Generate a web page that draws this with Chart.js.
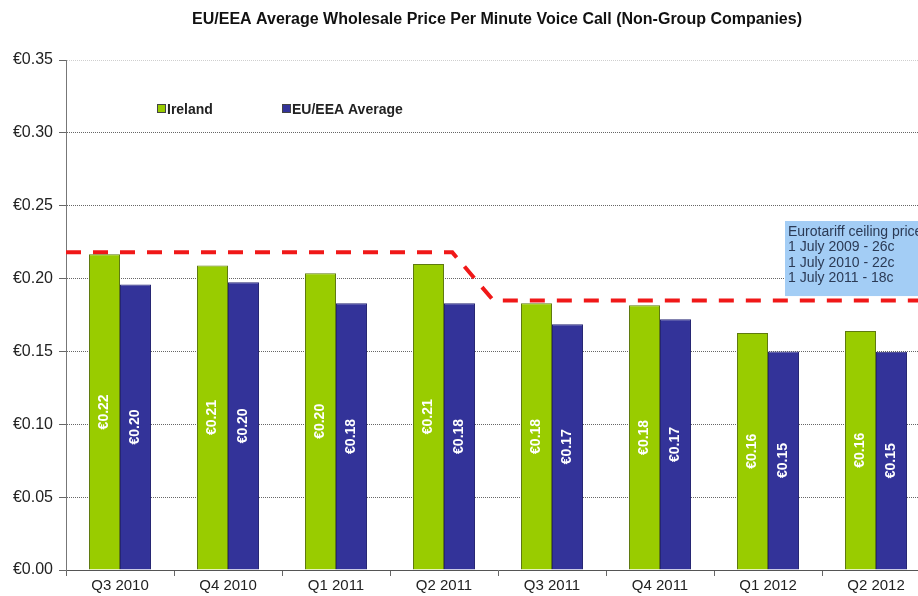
<!DOCTYPE html>
<html>
<head>
<meta charset="utf-8">
<script src="https://cdn.jsdelivr.net/npm/chart.js@4.4.0/dist/chart.umd.min.js"></script>
<style>
  html, body { margin: 0; padding: 0; background: #fff; overflow: hidden; }
  #wrap { width: 990px; height: 596px; }
</style>
</head>
<body>
<div id="wrap"><canvas id="myChart" width="990" height="596"></canvas></div>
<script>
// quarters on the x axis
const quarters = ['Q3 2010', 'Q4 2010', 'Q1 2011', 'Q2 2011', 'Q3 2011', 'Q4 2011', 'Q1 2012', 'Q2 2012'];
// price per minute (EUR)
const ireland = [0.2167, 0.209, 0.2037, 0.210, 0.183, 0.1817, 0.1626, 0.164];
const euAverage = [0.196, 0.1975, 0.183, 0.183, 0.1687, 0.172, 0.150, 0.1497];
// eurotariff ceiling line, x in category index units (-0.5 = left edge)
const ceilingX = [-0.5, 3.077, 3.457, 7.5];
const ceilingY = [0.218, 0.218, 0.185, 0.185];
const yTicks = [0, 0.05, 0.10, 0.15, 0.20, 0.25, 0.30, 0.35];
const noteLines = ['Eurotariff ceiling price', '1 July 2009 - 26c', '1 July 2010 - 22c', '1 July 2011 - 18c'];

const FONT = '"Liberation Sans", Arial, sans-serif';

// title, legend, note box and the labels inside the bars
const extras = {
    id: 'extras',
    afterDraw(chart) {
        const c = chart.ctx;
        const yScale = chart.scales.y;
        c.save();

        // title
        c.fillStyle = '#111';
        c.font = 'bold 16px ' + FONT;
        c.textAlign = 'center';
        c.textBaseline = 'middle';
        c.fillText('EU/EEA Average Wholesale Price Per Minute Voice Call (Non-Group Companies)', 497, 20);

        // bar labels
        c.font = 'bold 14px ' + FONT;
        c.fillStyle = '#fff';
        [0, 1].forEach(i => {
            const meta = chart.getDatasetMeta(i);
            const vals = chart.data.datasets[i].data;
            meta.data.forEach((bar, j) => {
                const mid = (bar.y + bar.base) / 2;
                c.save();
                c.translate(bar.x, mid);
                c.rotate(-Math.PI / 2);
                c.fillText('€' + vals[j].toFixed(2), 0, 0);
                c.restore();
            });
        });

        // legend
        c.textAlign = 'left';
        c.font = 'bold 14px ' + FONT;
        const legend = [['Ireland', '#99cc00', 157], ['EU/EEA Average', '#333399', 282]];
        legend.forEach(([txt, col, x]) => {
            c.fillStyle = col;
            c.fillRect(x, 104, 9, 9);
            c.strokeStyle = '#444';
            c.lineWidth = 1;
            c.strokeRect(x + 0.5, 104.5, 8, 8);
            c.fillStyle = '#222';
            c.fillText(txt, x + 10, 110);
        });

        // note box
        const top = yScale.getPixelForValue(0.2395);
        const bottom = yScale.getPixelForValue(0.188);
        c.fillStyle = '#a3cdf5';
        c.fillRect(785, top, 200, bottom - top);
        c.fillStyle = '#2b3a55';
        c.font = '14px ' + FONT;
        noteLines.forEach((t, k) => {
            c.fillText(t, 788, top + 11 + k * 15.5);
        });
        c.restore();
    }
};

new Chart(document.getElementById('myChart'), {
    type: 'bar',
    data: {
        labels: quarters,
        datasets: [{
            label: 'Ireland',
            data: ireland,
            backgroundColor: '#99cc00',
            borderColor: '#5f7a10',
            borderWidth: 1
        }, {
            label: 'EU/EEA Average',
            data: euAverage,
            backgroundColor: '#333399',
            borderColor: '#262673',
            borderWidth: 1
        }, {
            type: 'line',
            label: 'Ceiling',
            parsing: false,
            data: ceilingX.map((x, i) => ({ x: x, y: ceilingY[i] })),
            borderColor: '#f01818',
            borderWidth: 4,
            borderDash: [15, 12],
            pointRadius: 0,
            fill: false,
            tension: 0
        }]
    },
    options: {
        responsive: false,
        animation: false,
        datasets: {
            bar: { categoryPercentage: 0.574, barPercentage: 1.0 }
        },
        layout: { padding: { top: 60, right: 60, left: 0, bottom: 0 } },
        plugins: {
            legend: { display: false },
            title: { display: false },
            tooltip: { enabled: false }
        },
        scales: {
            x: {
                type: 'category',
                offset: true,
                grid: {
                    offset: true,
                    drawOnChartArea: false,
                    drawTicks: true,
                    tickLength: 6,
                    tickColor: '#666'
                },
                border: { color: '#555', width: 1 },
                ticks: { color: '#222', font: { family: FONT, size: 15 }, padding: 1, maxRotation: 0 },
                afterFit(scale) { scale.height = 26; }
            },
            y: {
                min: 0,
                max: 0.35,
                afterBuildTicks(scale) { scale.ticks = yTicks.map(v => ({ value: v })); },
                grid: {
                    color: ctx => ctx.tick && ctx.tick.value >= 0.35 ? '#cfcfcf' : '#666',
                    lineWidth: 1,
                    tickLength: 7,
                    tickColor: '#666',
                    drawTicks: true
                },
                border: { color: '#777', width: 1, dash: [1, 1] },
                ticks: {
                    color: '#222',
                    font: { family: FONT, size: 16 },
                    padding: 6,
                    callback: v => '€' + v.toFixed(2)
                },
                afterFit(scale) { scale.width = 66; }
            }
        }
    },
    plugins: [extras]
});
</script>
</body>
</html>
